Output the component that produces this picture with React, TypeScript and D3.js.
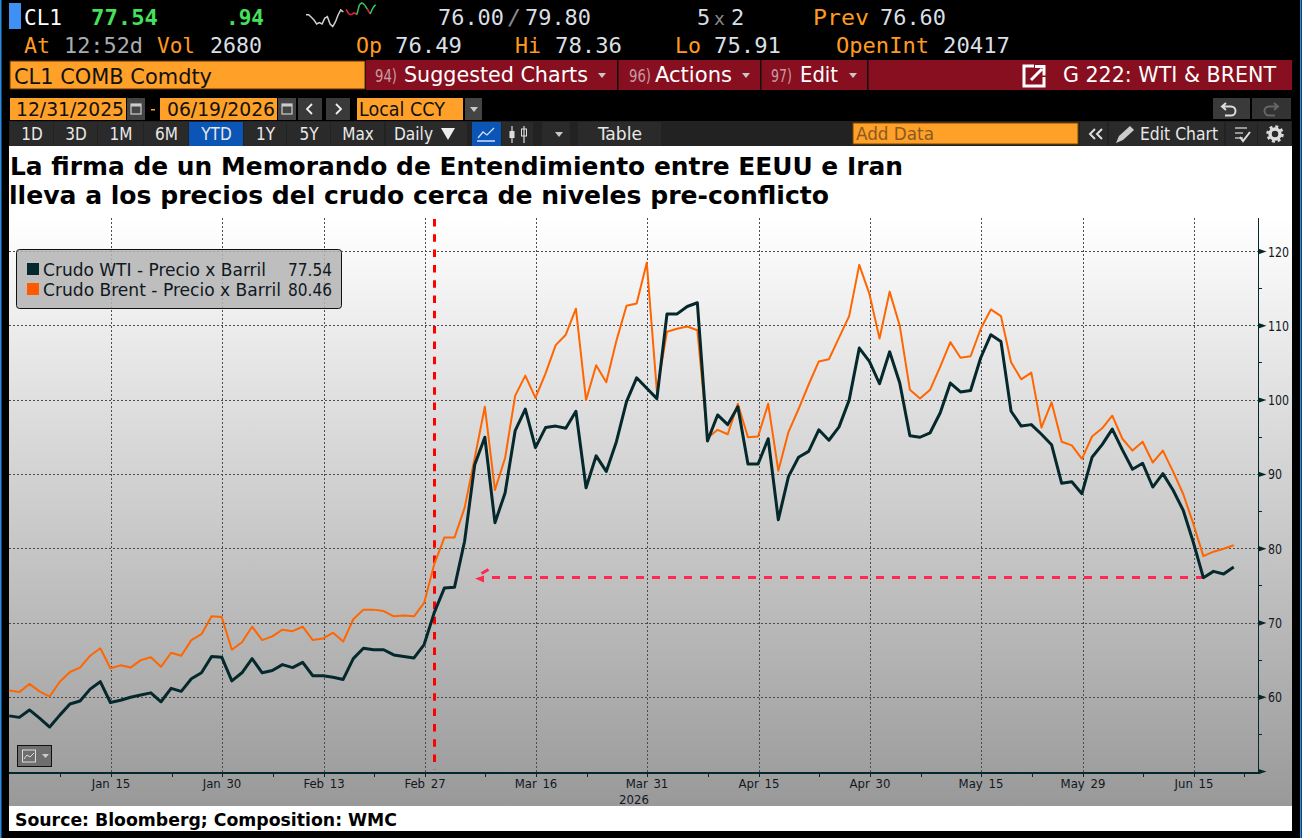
import React from "react";
import * as d3 from "d3";

// weekdays from Jan 1 to the last axis tick
const sessions = d3
  .utcDays(new Date(Date.UTC(2026, 0, 1)), new Date(Date.UTC(2026, 5, 23)))
  .filter((d) => d.getUTCDay() !== 0 && d.getUTCDay() !== 6);

const brent = [
  60.9, 60.7, 61.8, 60.8, 60.1, 62.1, 63.4, 64.0, 65.6, 66.6,
  63.9, 64.3, 64.0, 65.0, 65.4, 64.1, 66.0, 65.6, 67.7, 68.5,
  70.9, 70.8, 66.4, 67.4, 69.5, 67.7, 68.2, 69.1, 68.9, 69.5,
  67.7, 67.9, 68.7, 67.5, 70.5, 71.8, 71.8, 71.6, 70.9, 71.0,
  70.9, 72.7, 77.9, 81.5, 81.5, 85.5, 92.2, 99.1, 87.9, 92.2,
  100.6, 103.3, 100.3, 103.6, 107.4, 108.8, 112.3, 100.0, 104.7, 102.4,
  108.0, 112.7, 113.0, 118.5, 101.2, 109.2, 109.6, 109.9, 109.4, 94.9,
  96.0, 95.4, 99.5, 95.0, 95.1, 99.5, 90.5, 95.7, 98.8, 102.1,
  105.2, 105.5, 108.4, 111.3, 118.2, 114.3, 108.3, 114.6, 110.0, 101.4,
  100.2, 101.4, 104.5, 107.8, 105.7, 105.9, 109.6, 112.2, 111.3, 105.1,
  102.8, 103.7, 96.3, 99.7, 94.4, 93.9, 92.1, 95.1, 96.2, 97.9,
  94.8, 93.2, 94.4, 91.6, 93.2, 90.4, 87.4, 83.4, 79.0, 79.6,
  80.0, 80.46,
];

const wti = [
  57.5, 57.3, 58.3, 57.2, 56.0, 57.6, 59.1, 59.5, 61.1, 62.1,
  59.3, 59.6, 60.0, 60.3, 60.6, 59.4, 61.2, 60.8, 62.5, 63.3,
  65.5, 65.4, 62.2, 63.3, 65.2, 63.3, 63.6, 64.4, 64.0, 64.7,
  62.9, 62.9, 62.7, 62.4, 65.2, 66.6, 66.4, 66.4, 65.7, 65.5,
  65.3, 67.1, 71.4, 74.7, 74.8, 81.0, 91.3, 95.0, 83.5, 87.5,
  95.9, 98.8, 93.6, 96.3, 96.5, 96.2, 98.5, 88.2, 92.5, 90.4,
  94.4, 99.8, 103.0, 101.6, 100.2, 111.6, 111.6, 112.6, 113.1, 94.5,
  98.0, 96.7, 99.1, 91.4, 91.4, 94.8, 83.9, 89.7, 92.3, 93.1,
  96.0, 94.6, 96.4, 100.0, 107.0, 105.2, 102.2, 106.5, 102.3, 95.2,
  95.0, 95.6, 98.3, 102.3, 101.1, 101.3, 105.7, 108.8, 107.9, 98.5,
  96.5, 96.7, 95.4, 94.0, 88.8, 89.0, 87.4, 92.3, 94.0, 96.1,
  93.3, 90.7, 91.5, 88.3, 90.1, 87.9, 85.2, 80.9, 76.1, 76.95,
  76.6, 77.54,
];

const xTicks = ["2026-01-15", "2026-01-30", "2026-02-13", "2026-02-27", "2026-03-16", "2026-03-31", "2026-04-15", "2026-04-30", "2026-05-15", "2026-05-29", "2026-06-15"];
const xMinorTicks = ["2026-01-08", "2026-01-23", "2026-02-06", "2026-02-20", "2026-03-09", "2026-03-23", "2026-04-08", "2026-04-23", "2026-05-07", "2026-05-22", "2026-06-08", "2026-06-22"];
const yTicks = [60, 70, 80, 90, 100, 110, 120];
const yMinorTicks = [55, 65, 75, 85, 95, 105, 115];

const eventDate = "2026-03-02";
const preConflictLevel = 76.1;

// header intraday sparkline, arbitrary height units
const sparkPrev = [41, 41, 33, 25, 13, 17, 13, 30, 35, 13, 5, 19, 40, 55, 49];
const sparkToday = [57, 43, 41, 47, 41, 71, 77, 69, 57, 43, 61, 71];

const periodButtons = ["1D", "3D", "1M", "6M", "YTD", "1Y", "5Y", "Max"];
const periodEdges = [10, 54, 98, 144, 189, 244, 287, 331, 385];

const fmtDay = d3.utcFormat("%Y-%m-%d");
const fmtTick = d3.utcFormat("%b %-d");
const parseDay = d3.utcParse("%Y-%m-%d");

const UI = "'DejaVu Sans Condensed', 'DejaVu Sans', sans-serif";
const MONO = "'DejaVu Sans Mono', monospace";
const BOLD = "'DejaVu Sans', sans-serif";
const ORANGE = "#ffa028";
const AMBER = "#ff9a1f";
const VALUE = "#d9dfe4";
const MAROON = "#870f20";
const DARK = "#04282b";
const TXT = "#101822";

const top = 218;
const axisY = 773;
const axisX = 1258.5;

interface LabelProps {
  x: number;
  y: number;
  s: string;
  w?: number;
  size?: number;
  fill?: string;
  family?: string;
  weight?: string | number;
  anchor?: "start" | "middle" | "end";
}

function T({ x, y, s, w, size = 20, fill = "#fff", family = UI, weight = 400, anchor = "start" }: LabelProps) {
  return (
    <text
      x={x}
      y={y}
      fontSize={size}
      fill={fill}
      fontFamily={family}
      fontWeight={weight}
      textAnchor={anchor}
      textLength={w}
      lengthAdjust={w ? "spacingAndGlyphs" : undefined}
    >
      {s}
    </text>
  );
}

function Header() {
  return (
    <g>
      <rect x={9} y={3} width={12} height={26} fill="#3f8ff5" />
      <T x={24} y={25} s="CL1" family={MONO} size={22} w={38} />
      <T x={91} y={25} s="77.54" family={MONO} size={22} weight={700} fill="#45e05c" w={67} />
      <T x={226} y={25} s=".94" family={MONO} size={22} weight={700} fill="#45e05c" w={38} />
      <T x={438} y={25} s="76.00" family={MONO} size={22} fill={VALUE} w={66} />
      <T x={507} y={25} s="/" family={MONO} size={22} fill="#8a8a8a" w={14} />
      <T x={525} y={25} s="79.80" family={MONO} size={22} fill={VALUE} w={66} />
      <T x={697} y={25} s="5" family={MONO} size={22} fill={VALUE} />
      <T x={714} y={25} s="x" family={MONO} size={18} fill="#8a8a8a" />
      <T x={731} y={25} s="2" family={MONO} size={22} fill={VALUE} />
      <T x={813} y={25} s="Prev" family={MONO} size={22} fill={AMBER} w={56} />
      <T x={880} y={25} s="76.60" family={MONO} size={22} fill={VALUE} w={66} />

      <T x={24} y={53} s="At" family={MONO} size={22} fill={AMBER} w={26} />
      <T x={64} y={53} s="12:52d" family={MONO} size={22} fill="#a9adb0" w={79} />
      <T x={157} y={53} s="Vol" family={MONO} size={22} fill={AMBER} w={38} />
      <T x={210} y={53} s="2680" family={MONO} size={22} fill={VALUE} w={52} />
      <T x={356} y={53} s="Op" family={MONO} size={22} fill={AMBER} w={26} />
      <T x={395} y={53} s="76.49" family={MONO} size={22} fill={VALUE} w={67} />
      <T x={515} y={53} s="Hi" family={MONO} size={22} fill={AMBER} w={26} />
      <T x={555} y={53} s="78.36" family={MONO} size={22} fill={VALUE} w={67} />
      <T x={675} y={53} s="Lo" family={MONO} size={22} fill={AMBER} w={26} />
      <T x={714} y={53} s="75.91" family={MONO} size={22} fill={VALUE} w={67} />
      <T x={836} y={53} s="OpenInt" family={MONO} size={22} fill={AMBER} w={93} />
      <T x={943} y={53} s="20417" family={MONO} size={22} fill={VALUE} w={67} />
    </g>
  );
}

function Sparkline() {
  const sx = d3.scaleLinear().domain([0, sparkPrev.length + sparkToday.length - 1]).range([306, 375.5]);
  const sy = d3.scaleLinear().domain([0, 85]).range([28.3, 0]);
  const prevLine = d3
    .line<number>()
    .x((_, i) => sx(i))
    .y((d) => sy(d));
  return (
    <g fill="none" strokeWidth={1.5}>
      <path d={prevLine(sparkPrev) || ""} stroke="#d0d0d0" />
      {sparkToday.slice(1).map((v, i) => (
        <line
          key={i}
          x1={sx(sparkPrev.length + i)}
          x2={sx(sparkPrev.length + i + 1)}
          y1={sy(sparkToday[i])}
          y2={sy(v)}
          stroke={v > 50 ? "#3fc860" : "#f02040"}
        />
      ))}
    </g>
  );
}

function Caret({ x, y, fill = "#c8c8c8" }: { x: number; y: number; fill?: string }) {
  return <path d={`M${x - 4},${y - 2}h8l-4,5z`} fill={fill} />;
}

function TitleBar() {
  return (
    <g>
      <rect x={10} y={61} width={355} height={28} fill={ORANGE} stroke="#5c3000" />
      <T x={14} y={84} s="CL1 COMB Comdty" size={22} fill="#111" w={198} />
      <rect x={366} y={60} width={926} height={30} fill={MAROON} />
      {[617, 760, 867].map((x) => (
        <rect key={x} x={x} y={60} width={1.5} height={30} fill="#111" />
      ))}
      <T x={375} y={82} s="94)" size={18} fill="#c89aa0" w={22} />
      <T x={404} y={82} s="Suggested Charts" size={22} w={184} />
      <Caret x={602} y={75} />
      <T x={629} y={82} s="96)" size={18} fill="#c89aa0" w={22} />
      <T x={655} y={82} s="Actions" size={22} w={77} />
      <Caret x={746} y={75} />
      <T x={771} y={82} s="97)" size={18} fill="#c89aa0" w={21} />
      <T x={800} y={82} s="Edit" size={22} w={38} />
      <Caret x={853} y={75} />
      <path d="M1034,66h-10v20h20v-9" fill="none" stroke="#fff" strokeWidth={3} />
      <path d="M1031,80l11,-11M1035,66.500h9v9" fill="none" stroke="#fff" strokeWidth={3} />
      <T x={1063} y={82} s="G 222: WTI & BRENT" size={21} w={213} />
    </g>
  );
}

function CalendarIcon({ x }: { x: number }) {
  return (
    <g>
      <rect x={x} y={98} width={18} height={22} fill="#444" />
      <rect x={x + 4} y={104} width={10} height={10} fill="none" stroke="#ccc" strokeWidth={1.2} />
      <rect x={x + 4} y={104} width={10} height={2.5} fill="#ccc" />
    </g>
  );
}

function DateBar() {
  return (
    <g>
      <rect x={10} y={98} width={116} height={22} fill={ORANGE} />
      <T x={16} y={116} s="12/31/2025" size={19} fill="#111" w={108} />
      <CalendarIcon x={127} />
      <rect x={151} y={109} width={4} height={1.5} fill={ORANGE} />
      <rect x={160} y={98} width={117} height={22} fill={ORANGE} />
      <T x={167} y={116} s="06/19/2026" size={19} fill="#111" w={108} />
      <CalendarIcon x={278} />
      <rect x={298} y={98} width={24} height={22} fill="#3a3a3a" />
      <path d="M312,104l-5,5l5,5" fill="none" stroke="#eee" strokeWidth={1.8} />
      <rect x={326} y={98} width={24} height={22} fill="#3a3a3a" />
      <path d="M336,104l5,5l-5,5" fill="none" stroke="#eee" strokeWidth={1.8} />
      <rect x={357} y={98} width={106} height={22} fill={ORANGE} />
      <T x={359} y={116} s="Local CCY" size={19} fill="#111" w={86} />
      <rect x={465} y={98} width={17} height={22} fill="#444" />
      <Caret x={474} y={109} />
      <rect x={1213} y={98} width={37} height={21} fill="#3a3a3a" />
      <path d="M1226,103l-4,3.500l4,3.500M1223,106.500h8a4.500,4.500 0 0 1 0,9h-6" fill="none" stroke="#ddd" strokeWidth={2} />
      <rect x={1252} y={98} width={39} height={21} fill="#333" />
      <path d="M1274,103l4,3.500l-4,3.500M1277,106.500h-8a4.500,4.500 0 0 0 0,9h6" fill="none" stroke="#666" strokeWidth={2} />
    </g>
  );
}

function Toolbar() {
  return (
    <g>
      <rect x={9} y={121} width={1283} height={25} fill="#222" />
      {periodButtons.map((label, i) => (
        <g key={label}>
          <rect x={periodEdges[i]} y={122} width={periodEdges[i + 1] - periodEdges[i] - 1} height={24} fill={label === "YTD" ? "#0a55b5" : "#2a2a2a"} />
          <T x={(periodEdges[i] + periodEdges[i + 1]) / 2} y={140} s={label} size={17} anchor="middle" fill="#e8e8e8" />
        </g>
      ))}
      <rect x={386} y={122} width={81} height={24} fill="#2a2a2a" />
      <T x={394} y={140} s="Daily" size={17} w={39} fill="#e8e8e8" />
      <path d="M441,128h14l-7,12z" fill="#eee" />
      <rect x={472} y={122} width={29} height={24} fill="#0a55b5" />
      <path d="M478,138l5,-6l4,3l7,-7M477,141h18" fill="none" stroke="#cfe0ff" strokeWidth={1.3} />
      <rect x={502} y={122} width={31} height={24} fill="#2a2a2a" />
      <path d="M512,126v17M524,126v17" stroke="#ddd" strokeWidth={1.2} />
      <rect x={509.500} y={131} width={5} height={7} fill="#ddd" />
      <rect x={521.500} y={129} width={5} height={7} fill="none" stroke="#ddd" />
      <rect x={542} y={122} width={28} height={24} fill="#2a2a2a" />
      <Caret x={559} y={134} />
      <rect x={578} y={122} width={83} height={24} fill="#2a2a2a" />
      <T x={598} y={140} s="Table" size={17} w={44} fill="#e8e8e8" />
      <rect x={853} y={123} width={225} height={21} fill={ORANGE} stroke="#7a4500" />
      <T x={856} y={140} s="Add Data" size={18} fill="#8a5a20" w={78} />
      <rect x={1080} y={122} width={27} height={24} fill="#2a2a2a" />
      <path d="M1095,129l-5,5l5,5M1102,129l-5,5l5,5" fill="none" stroke="#ddd" strokeWidth={2} />
      <rect x={1109} y={122} width={115} height={24} fill="#2a2a2a" />
      <path d="M1116,143l3,-7l11,-10l4,4l-11,10z" fill="#ccc" />
      <T x={1140} y={140} s="Edit Chart" size={17} w={78} fill="#e8e8e8" />
      <rect x={1226} y={122} width={31} height={24} fill="#2a2a2a" />
      <path d="M1235,128h12M1235,133h8M1235,138h8" stroke="#bbb" strokeWidth={1.5} />
      <path d="M1240,137l3,4l7,-9" fill="none" stroke="#ddd" strokeWidth={2} />
      <rect x={1258} y={122} width={33} height={24} fill="#2a2a2a" />
      <circle cx={1275} cy={134} r={5} fill="none" stroke="#ddd" strokeWidth={3.5} />
      <circle cx={1275} cy={134} r={7.500} fill="none" stroke="#ddd" strokeWidth={2.5} strokeDasharray="3 2.900" />
    </g>
  );
}

export default function App() {
  const days = sessions.map(fmtDay);
  const x = d3.scalePoint<string>().domain(days).range([9.2, 9.2 + 10.12 * (days.length - 1)]);
  const y = d3.scaleLinear().domain([60, 120]).range([697.3, 251.5]);

  const gridX = (d: string) => Math.round((x(d) || 0) + 0.6) + 0.5;
  const gridY = (v: number) => Math.round(y(v) - 0.5) + 0.5;

  const line = d3
    .line<number>()
    .x((_, i) => x(days[i]) || 0)
    .y((d) => y(d))
    .curve(d3.curveLinear);

  const eventX = Math.floor(x(eventDate) || 0) + 0.5;
  const levelY = Math.floor(y(preConflictLevel)) + 0.5;
  const levelEndX = x(days[118]) || 0;

  return (
    <svg width={1302} height={838} style={{ position: "fixed", left: 0, top: 0, display: "block" }}>
      <defs>
        <linearGradient id="plotBg" gradientUnits="userSpaceOnUse" x1={0} x2={0} y1={top} y2={806}>
          <stop offset="0%" stopColor="#ffffff" />
          <stop offset="100%" stopColor="#999999" />
        </linearGradient>
      </defs>

      <rect width={1302} height={838} fill="#000" />
      <rect x={0} y={0} width={1.5} height={838} fill="#2a8be0" />
      <rect x={1300} y={0} width={1.5} height={838} fill="#2a8be0" />

      <Header />
      <Sparkline />
      <TitleBar />
      <DateBar />
      <Toolbar />

      {/* White panel and title */}
      <rect x={9} y={146} width={1283} height={685} fill="#fff" />
      <T x={10} y={175} s="La firma de un Memorando de Entendimiento entre EEUU e Iran" size={24} weight={700} fill="#000" family={BOLD} w={893} />
      <T x={9} y={204} s="lleva a los precios del crudo cerca de niveles pre-conflicto" size={24} weight={700} fill="#000" family={BOLD} w={820} />
      <rect x={9} y={top} width={1283} height={806 - top} fill="url(#plotBg)" />

      {/* Grid */}
      <g stroke="#4d4d4d" strokeDasharray="2 2" shapeRendering="crispEdges">
        {yTicks.map((t) => (
          <line key={t} x1={9} x2={axisX} y1={gridY(t)} y2={gridY(t)} />
        ))}
        {xTicks.map((d) => (
          <line key={d} x1={gridX(d)} x2={gridX(d)} y1={top} y2={axisY} />
        ))}
      </g>

      {/* Annotations */}
      <line x1={eventX} x2={eventX} y1={top + 1} y2={axisY - 3} stroke="#ff0000" strokeWidth={3} strokeDasharray="7.500 7.800" />
      <line x1={492} x2={levelEndX} y1={levelY} y2={levelY} stroke="#ff2850" strokeWidth={3} strokeDasharray="8 8" />
      <path d={`M475,${levelY + 1}l9,-3v7z`} fill="#ff2850" />
      <path d={`M481.500,${levelY - 4}l7,-4`} stroke="#ff2850" strokeWidth={3} />

      {/* Series */}
      <path d={line(brent) || ""} fill="none" stroke="#ff6600" strokeWidth={2} strokeLinejoin="round" />
      <path d={line(wti) || ""} fill="none" stroke={DARK} strokeWidth={3} strokeLinejoin="round" />

      {/* Axes */}
      <g stroke={DARK} strokeWidth={1.2} shapeRendering="crispEdges">
        <line x1={9} x2={axisX} y1={axisY} y2={axisY} />
        <line x1={axisX} x2={axisX} y1={top} y2={axisY} />
        {xTicks.concat(xMinorTicks).map((d) => (
          <line key={d} x1={gridX(d)} x2={gridX(d)} y1={axisY} y2={axisY + 3.5} />
        ))}
        {yMinorTicks.map((t) => (
          <line key={t} x1={axisX} x2={axisX + 3.5} y1={gridY(t)} y2={gridY(t)} />
        ))}
      </g>
      <g fill={DARK}>
        {yTicks.concat([50]).map((t) => (
          <path key={t} d={`M${axisX},${y(t) - 2.7}l8,2.700l-8,2.700z`} />
        ))}
      </g>
      {yTicks.map((t) => (
        <T key={t} x={1268} y={y(t) + 5} s={String(t)} size={13.500} fill={TXT} w={t >= 100 ? 21 : 14} />
      ))}
      {xTicks.map((d) => (
        <text key={d} x={gridX(d) - 0.5} y={788} fontSize={13} fill={TXT} fontFamily={UI} textAnchor="middle" wordSpacing={2}>
          {fmtTick(parseDay(d) as Date)}
        </text>
      ))}
      <T x={634} y={804} s="2026" size={13} fill={TXT} anchor="middle" />

      {/* Chart type chip */}
      <rect x={17.500} y={745.500} width={34} height={21} fill="#6e6e6e" stroke="#111" />
      <rect x={22.500} y={750} width={13} height={12} fill="none" stroke="#ddd" />
      <path d="M24,759l3,-4l3,2l4,-4" fill="none" stroke="#ddd" />
      <path d="M42,754h7l-3.500,4z" fill="#ccc" />

      {/* Legend */}
      <rect x={16.500} y={249.500} width={325} height={59} rx={3} fill="#b4b4b4" fillOpacity={0.85} stroke="#111" />
      <rect x={27} y={263} width={12} height={12} fill={DARK} />
      <rect x={27} y={283} width={12} height={12} fill="#ff5a00" />
      <T x={43} y={276} s="Crudo WTI - Precio x Barril" size={17.500} fill={TXT} w={223} />
      <T x={288} y={276} s="77.54" size={17.500} fill={TXT} w={44} />
      <T x={43} y={296} s="Crudo Brent - Precio x Barril" size={17.500} fill={TXT} w={238} />
      <T x={288} y={296} s="80.46" size={17.500} fill={TXT} w={44} />

      {/* Source strip */}
      <rect x={9} y={806} width={1283} height={25} fill="#fff" />
      <T x={15} y={826} s="Source: Bloomberg; Composition: WMC" size={17} weight={700} fill="#000" family={BOLD} w={382} />
    </svg>
  );
}
